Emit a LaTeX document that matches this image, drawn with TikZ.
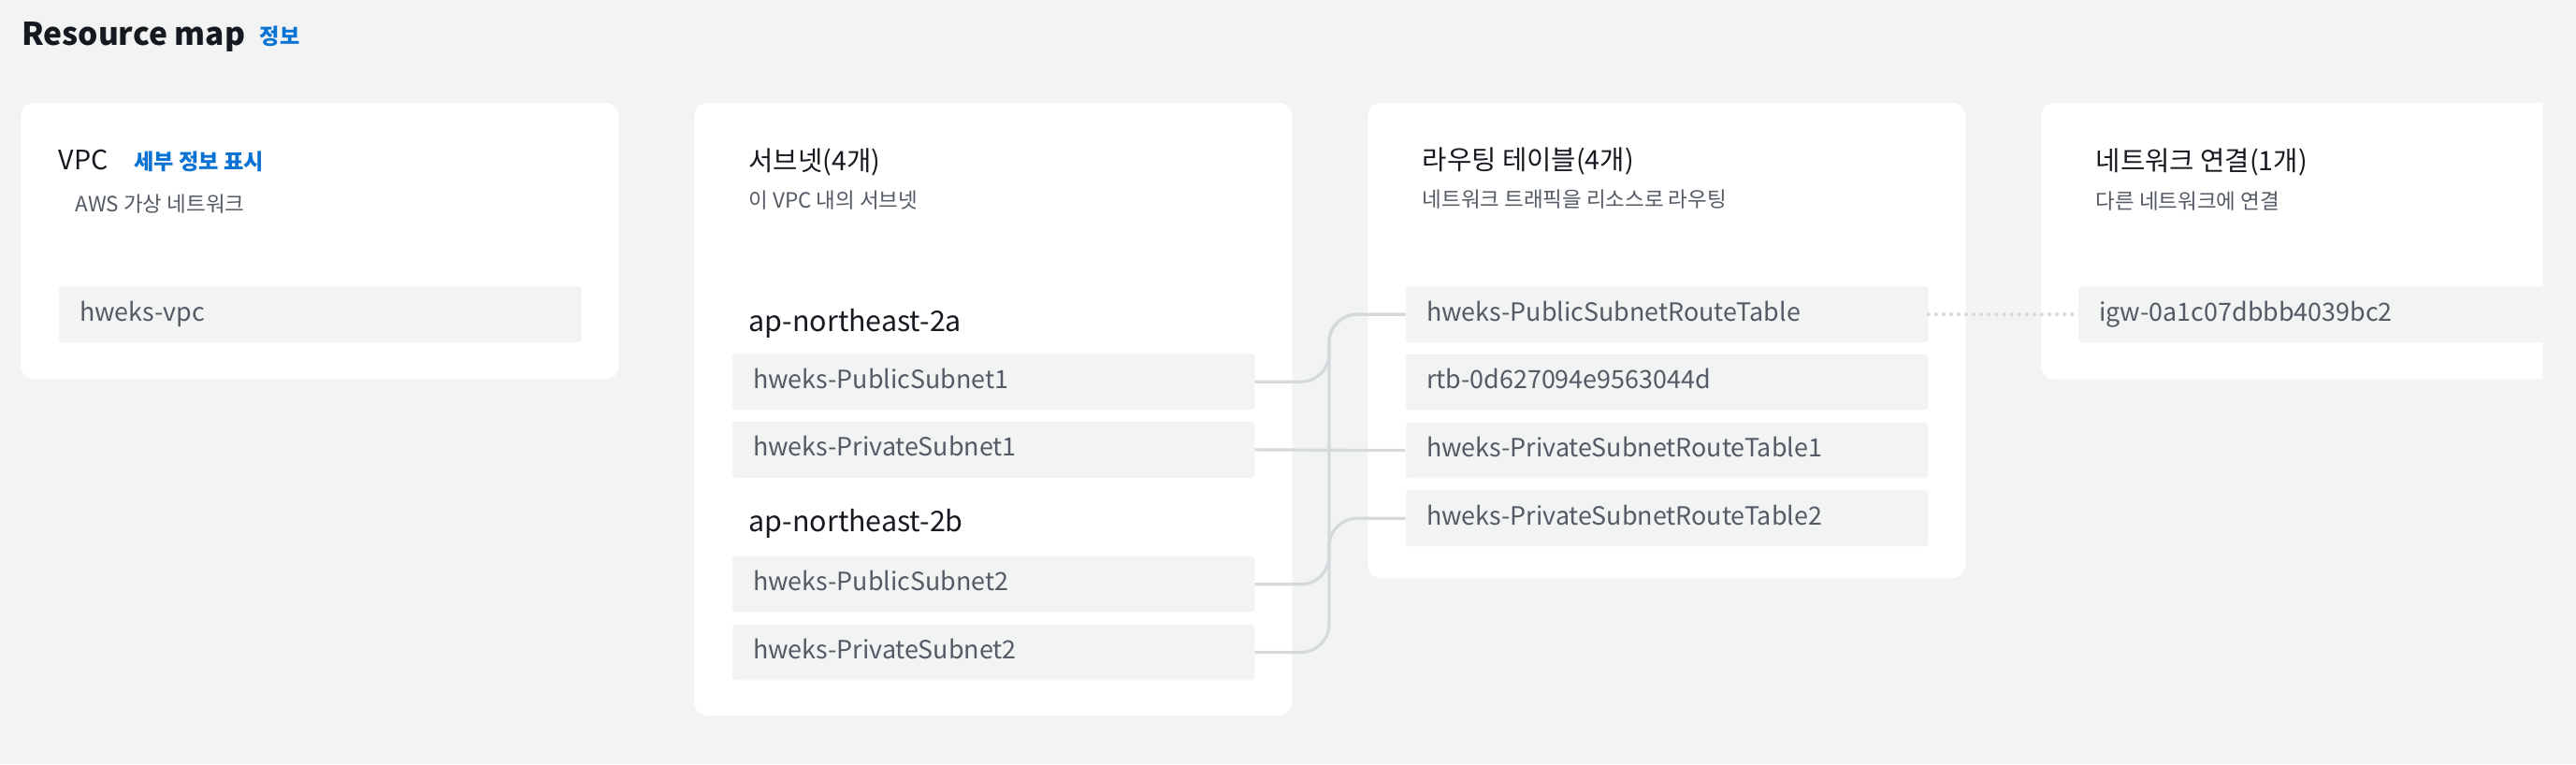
\documentclass[tikz,border=0pt]{standalone}
\usepackage{fontspec}
\setmainfont{Noto Sans CJK KR}
\usetikzlibrary{positioning}
\definecolor{pagebg}{HTML}{F2F3F3}
\definecolor{itembg}{HTML}{F2F3F3}
\definecolor{itemfg}{HTML}{545B64}
\definecolor{headfg}{HTML}{16191F}
\definecolor{linkfg}{HTML}{0972D3}
\definecolor{wirefg}{HTML}{D5D9DB}

\begin{document}
\begin{tikzpicture}[x=1pt,y=-1pt,
  card/.style={fill=white,rounded corners=8pt},
  ttl/.style={anchor=base west,inner sep=0pt,text=headfg,font=\fontsize{16.3}{19}\selectfont},
  sub/.style={anchor=base west,inner sep=0pt,text=itemfg,font=\fontsize{12.8}{15}\selectfont},
  zone/.style={anchor=base west,inner sep=0pt,text=headfg,font=\fontsize{17.3}{21}\selectfont},
  lnk/.style={anchor=base west,inner sep=0pt,text=linkfg,font=\bfseries\fontsize{13.2}{15}\selectfont},
  item/.style={anchor=north west,fill=itembg,rounded corners=2pt,text=itemfg,
    font=\fontsize{15.3}{18}\selectfont,inner xsep=12.7pt,inner ysep=0pt,
    minimum height=34pt,text width=292.6pt,align=left,text height=.88em,text depth=.1em},
  wire/.style={draw=wirefg,line width=1.8pt,rounded corners=17pt},
  dotwire/.style={draw=wirefg,line width=2.3pt,line cap=round,dash pattern=on 0pt off 4.6pt}]

\fill[pagebg] (0,0) rectangle (1568,465.4);
\useasboundingbox (0,0) rectangle (1568,465.4);

\node[anchor=base west,inner sep=0pt,text=headfg,font=\bfseries\fontsize{19.1}{23}\selectfont] (head) at (13,27.5) {Resource map};
\node[lnk] (info) at (158,26.8) {정보};

\fill[card] (12.7,62.6) rectangle (376.7,230.8);
\fill[card] (422.6,62.6) rectangle (786.6,435.6);
\fill[card] (832.6,62.6) rectangle (1196.5,352);
\begin{scope}
\clip (0,0) rectangle (1547.8,465.4);
\fill[card] (1242.3,62.6) rectangle (1580,231);
\node[item] (igw) at (1265,174.2) {igw-0a1c07dbbb4039bc2};
\end{scope}

\node[ttl] (vpct) at (35.6,103.5) {VPC};
\node[lnk] (vpcinfo) at (81.5,103.4) {세부 정보 표시};
\node[sub] (vpcs) at (45.7,129) {AWS 가상 네트워크};
\node[item] (vpc) at (35.6,174.2) {hweks-vpc};

\node[ttl] (snt) at (455.6,103.8) {서브넷(4개)};
\node[sub] (sns) at (455.6,126.8) {이 VPC 내의 서브넷};
\node[zone] (za) at (455.6,201.8) {ap-northeast-2a};
\node[item] (pub1) at (445.5,215.2) {hweks-PublicSubnet1};
\node[item,below=7pt of pub1] (priv1) {hweks-PrivateSubnet1};
\node[zone] (zb) at (455.6,323.8) {ap-northeast-2b};
\node[item] (pub2) at (445.5,338.5) {hweks-PublicSubnet2};
\node[item,below=7pt of pub2] (priv2) {hweks-PrivateSubnet2};

\node[ttl] (rtt) at (865.6,103.4) {라우팅 테이블(4개)};
\node[sub] (rts) at (865.6,126.2) {네트워크 트래픽을 리소스로 라우팅};
\node[item] (rtpub) at (855.4,174.2) {hweks-PublicSubnetRouteTable};
\node[item,below=7pt of rtpub] (rtb) {rtb-0d627094e9563044d};
\node[item,below=7pt of rtb] (rtpriv1) {hweks-PrivateSubnetRouteTable1};
\node[item,below=7pt of rtpriv1] (rtpriv2) {hweks-PrivateSubnetRouteTable2};

\node[ttl] (nct) at (1275.6,104) {네트워크 연결(1개)};
\node[sub] (ncs) at (1275.6,127) {다른 네트워크에 연결};

\coordinate (bus) at (809,0);
\draw[wire] (pub1.east) -- (pub1.east -| bus) |- (rtpub.west);
\draw[wire] (pub2.east) -- (pub2.east -| bus) |- (rtpub.west);
\draw[wire] (priv2.east) -- (priv2.east -| bus) |- (rtpriv2.west);
\draw[wire] (priv1.east) -- (rtpriv1.west);
\draw[dotwire] (rtpub.east) -- (igw.west);
\end{tikzpicture}
\end{document}
